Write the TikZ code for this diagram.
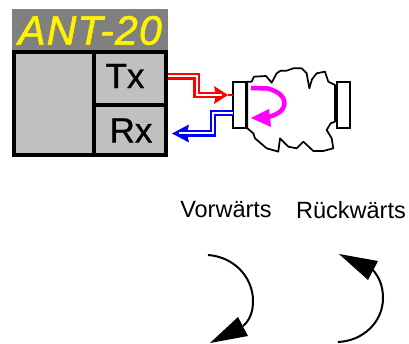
\documentclass[tikz,border=0pt]{standalone}
\usepackage{fontspec}
\setmainfont{Liberation Sans}
\usetikzlibrary{arrows.meta}
\definecolor{panelgray}{RGB}{192,192,192}
\definecolor{titlegray}{RGB}{128,128,128}
\definecolor{sigred}{RGB}{255,0,0}
\definecolor{sigblue}{RGB}{0,0,255}
\definecolor{loopmag}{RGB}{255,0,255}
\tikzset{
  panel/.style={draw=none,fill=panelgray,inner sep=0pt,outer sep=0pt,anchor=north west},
  portlabel/.style={font=\fontsize{35}{35}\selectfont\addfontfeatures{FakeBold=0.8},inner sep=0pt,text=black},
  sig/.style={line width=2.2pt,double=white,double distance=2pt,line join=miter},
  port/.style={draw=black,line width=2pt,fill=white,inner sep=0pt,outer sep=0pt,anchor=north west,minimum width=13pt,minimum height=46pt},
  capt/.style={font=\fontsize{23.5}{23.5}\selectfont,inner sep=0pt,text=black},
  curve/.style={line width=2pt,draw=black}
}
\begin{document}
\begin{tikzpicture}[x=1pt,y=-1pt]
\useasboundingbox (0,0) rectangle (409,344);
% instrument
\node[anchor=north west,fill=titlegray,minimum width=156pt,minimum height=42pt,inner sep=0pt,outer sep=0pt] (title) at (12,9) {};
\node[anchor=center,text=yellow,inner sep=0pt,font=\fontsize{41}{41}\selectfont\itshape\addfontfeatures{FakeBold=1.5,LetterSpace=3}] (titletext) at (90,30.5) {ANT-20};
\node[anchor=north west,fill=black,minimum width=156pt,minimum height=107pt,inner sep=0pt,outer sep=0pt] (frame) at (12,50) {};
\node[panel,minimum width=76pt,minimum height=99pt] (blank) at (16,54.5) {};
\node[panel,minimum width=68pt,minimum height=49pt] (tx) at (96,54.5) {};
\node[panel,minimum width=68pt,minimum height=46pt] (rx) at (96,107) {};
\node[portlabel] (txl) at (125,76) {Tx};
\node[portlabel] (rxl) at (131,130.5) {Rx};
% cloud
\begin{scope}[shift={(160,50)},x=0.3333pt,y=-0.3333pt]
\draw[black,line width=1.7pt,line join=round,fill=white]
 (262,95) -- (275,95) -- (282,80) -- (318,78) -- (335,98) -- (350,70) -- (362,62) -- (380,62) -- (400,55) -- (425,55) -- (440,70) -- (448,115)
 -- (456,88) -- (470,70) -- (495,65) -- (505,95) -- (525,105) -- (525,215) -- (512,220) -- (500,240) -- (515,265) -- (520,295) -- (490,303) -- (460,303)
 -- (430,275) -- (410,295) -- (385,290) -- (360,265) -- (355,305) -- (320,295) -- (285,265) -- (280,250) -- (262,235) -- cycle;
\end{scope}
% ports
\node[port] (portl) at (233,82) {};
\node[port] (portr) at (337,82) {};
% red signal
\coordinate (redstart) at (frame.east |- 0,76.5);
\coordinate (redtip) at (228,95);
\fill[sigred] (redtip) -- (214,104) -- (216,95) -- (214,86) -- cycle;
\draw[sigred,line width=2pt] (redtip) -- (portl.west |- redtip);
\draw[sig,draw=sigred] (redstart) -- (196.5,76.5) -- (196.5,95) -- (222,95);
% blue signal
\coordinate (bluestart) at (portl.west |- 0,113);
\coordinate (bluetip) at (172,133.5);
\fill[sigblue] (bluetip) -- (189,124.5) -- (187,133.5) -- (189,142.5) -- cycle;
\draw[sig,draw=sigblue] (bluestart) -- (213,113) -- (213,133.5) -- (179,133.5);
% magenta loop
\coordinate (loopa) at (251,88);
\coordinate (loopb) at (251,118);
\fill[loopmag] (loopb) -- (269,109) -- (271,127) -- cycle;
\draw[loopmag,line width=4.5pt] (loopa) -- (268,88.5) .. controls (280,92) and (286,98) .. (284,106) .. controls (282,113) and (272,117) .. (262,118);
% captions
\node[capt] (vor) at (226,210) {Vorwärts};
\node[capt] (rue) at (351,210) {Rückwärts};
% curved arrows
\coordinate (va) at (208,255);
\coordinate (vb) at (243,326);
\coordinate (ra) at (338,342);
\coordinate (rb) at (373,270);
\draw[curve] (va) .. controls (235,257) and (253,278) .. (253,301) .. controls (253,313) and (249,321) .. (vb);
\fill[black] (210,343) -- (238,317) -- (248,336) -- cycle;
\draw[curve] (ra) .. controls (363,341) and (383,322) .. (383,298) .. controls (383,286) and (379,277) .. (rb);
\fill[black] (339,254) -- (378,261) -- (368,280) -- cycle;
\end{tikzpicture}
\end{document}
